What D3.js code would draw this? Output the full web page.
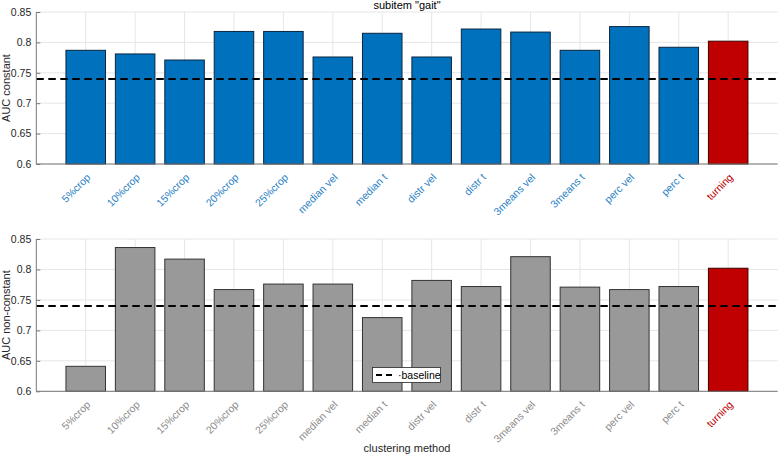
<!DOCTYPE html>
<html><head><meta charset="utf-8">
<script src="https://cdn.jsdelivr.net/npm/d3@7"></script>
<style>
body{margin:0;background:#fff;}
svg{display:block;font-family:"Liberation Sans",Arial,Helvetica,sans-serif;}
</style></head>
<body>
<svg id="c" width="778" height="455"></svg>
<script>
const categories = ["5%crop","10%crop","15%crop","20%crop","25%crop","median vel","median t","distr vel","distr t","3means vel","3means t","perc vel","perc t","turning"];
const aucConstant = [0.787,0.781,0.771,0.818,0.818,0.776,0.815,0.776,0.822,0.817,0.787,0.826,0.792,0.802];
const aucNonConstant = [0.641,0.836,0.817,0.767,0.776,0.776,0.721,0.782,0.772,0.821,0.771,0.767,0.772,0.802];
const baseline = 0.74;
const yTicks = [0.6,0.65,0.7,0.75,0.8,0.85];
const yTickLabels = ["0.6","0.65","0.7","0.75","0.8","0.85"];

const svg = d3.select("#c");
const x = d3.scaleLinear().domain([0, categories.length + 1]).range([36.3, 777.6]);
const step = x(1) - x(0);
const bw = step * 0.8;
const c45 = Math.SQRT1_2;

function panel(vals, top, bottom, ylabel, fill, stroke, labCol, showLegend) {
  const y = d3.scaleLinear().domain([0.6, 0.85]).range([bottom, top]);
  const g = svg.append("g");
  // grid
  g.selectAll(".hg").data(yTicks).join("line")
    .attr("x1", x(0)).attr("x2", x(15)).attr("y1", d => y(d)).attr("y2", d => y(d))
    .attr("stroke", "#e6e6e6").attr("stroke-width", 1);
  g.selectAll(".vg").data(categories).join("line")
    .attr("x1", (d,i) => x(i+1)).attr("x2", (d,i) => x(i+1)).attr("y1", top).attr("y2", bottom)
    .attr("stroke", "#e6e6e6").attr("stroke-width", 1);
  // bars
  g.selectAll(".bar").data(vals).join("rect")
    .attr("x", (d,i) => x(i+1) - bw/2).attr("width", bw)
    .attr("y", d => y(d)).attr("height", d => bottom - y(d))
    .attr("fill", (d,i) => i === categories.length-1 ? "#C00000" : fill)
    .attr("stroke", (d,i) => i === categories.length-1 ? "#3a0000" : stroke)
    .attr("stroke-width", 1);
  // baseline
  g.append("line").attr("x1", x(0)).attr("x2", x(15)).attr("y1", y(baseline)).attr("y2", y(baseline))
    .attr("stroke", "#000").attr("stroke-width", 2).attr("stroke-dasharray", "7.5,4.5");
  // axes
  const ya = d3.axisLeft(y).tickValues(yTicks).tickFormat((d,i) => yTickLabels[i]).tickSize(-4).tickPadding(5);
  const yg = g.append("g").attr("transform", `translate(${x(0)},0)`).call(ya);
  yg.select(".domain").attr("stroke", "#777").attr("d", `M0,${top}V${bottom}`);
  yg.selectAll(".tick line").attr("stroke", "#777");
  yg.selectAll(".tick text").attr("fill", "#262626").attr("font-size", 10.5);
  const xa = d3.axisBottom(x).tickValues([]).tickSize(0);
  const xg = g.append("g").attr("transform", `translate(0,${bottom})`).call(xa);
  xg.select(".domain").attr("stroke", "#777").attr("d", `M${x(0)},0H${x(15)}`);
  // rotated category labels (45 degrees up)
  g.selectAll(".lab").data(categories).join("text")
    .attr("transform", (d,i) => `matrix(${c45},${-c45},${c45},${c45},${x(i+1) + 5.5},${bottom + 14})`)
    .attr("text-anchor", "end").attr("font-size", 10.5)
    .attr("fill", (d,i) => i === categories.length-1 ? "#C00000" : labCol)
    .text(d => d);
  // y label
  g.append("text").attr("transform", `translate(9.5,${(top+bottom)/2}) rotate(-90)`)
    .attr("text-anchor", "middle").attr("font-size", 11).attr("fill", "#262626").text(ylabel);
  if (showLegend) {
    const lg = g.append("g");
    lg.append("rect").attr("x", 372.5).attr("y", 367.5).attr("width", 68).attr("height", 15)
      .attr("fill", "#fff").attr("stroke", "#262626").attr("stroke-width", 0.8);
    lg.append("line").attr("x1", 376).attr("x2", 396).attr("y1", 375).attr("y2", 375)
      .attr("stroke", "#000").attr("stroke-width", 2).attr("stroke-dasharray", "6,4");
    lg.append("text").attr("x", 398).attr("y", 379).attr("font-size", 10.5).attr("fill", "#000").text("·baseline");
  }
}

panel(aucConstant, 12, 164, "AUC constant", "#0072BD", "#0b2540", "#2a7fc4", false);
panel(aucNonConstant, 239, 391.3, "AUC non-constant", "#999999", "#333333", "#8c8c8c", true);

svg.append("text").attr("x", 407).attr("y", 9).attr("text-anchor", "middle").attr("font-size", 11).attr("fill", "#000").text('subitem "gait"');
svg.append("text").attr("x", 407).attr("y", 452).attr("text-anchor", "middle").attr("font-size", 11).attr("fill", "#262626").text("clustering method");
</script>
</body></html>
